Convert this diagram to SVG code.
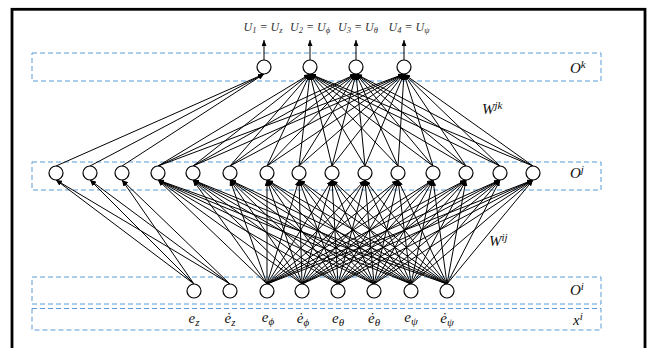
<svg xmlns="http://www.w3.org/2000/svg" width="653" height="348" viewBox="0 0 653 348">
<defs>
<marker id="ah" markerWidth="6" markerHeight="5" refX="6" refY="2.5" orient="auto" markerUnits="userSpaceOnUse">
<path d="M0,0 L6,2.5 L0,5 z" fill="#000"/>
</marker>
<style>
.frame{fill:none;stroke:#000;stroke-width:2.8}
.box{fill:none;stroke:#5B9BD5;stroke-width:1;stroke-dasharray:5,3}
.node circle{fill:#fff;stroke:#000;stroke-width:1.2}
.conn line{stroke:#000;stroke-width:1;marker-end:url(#ah)}
.lbl text{font-family:"Liberation Serif",serif;font-style:italic;fill:#111}
.top text{font-size:12px;fill:#333}
.bot text{font-size:15px}
.side text{font-size:15px}
</style>
</defs>
<rect width="653" height="348" fill="#fff"/>
<rect class="frame" x="12" y="9.3" width="633" height="350"/>
<g id="layers">
<rect class="box" x="32" y="53" width="569" height="28"/>
<rect class="box" x="32" y="162" width="569" height="28"/>
<rect class="box" x="32" y="277" width="569" height="27"/>
<rect class="box" x="32" y="308.5" width="569" height="21.5"/>
</g>
<g id="connectors" class="conn">
<line x1="194" y1="284" x2="56" y2="180"/><line x1="194" y1="284" x2="90" y2="180"/><line x1="194" y1="284" x2="122" y2="180"/>
<line x1="230" y1="284" x2="56" y2="180"/><line x1="230" y1="284" x2="90" y2="180"/><line x1="230" y1="284" x2="122" y2="180"/>
<line x1="267" y1="284" x2="158" y2="180"/><line x1="267" y1="284" x2="193" y2="180"/><line x1="267" y1="284" x2="230" y2="180"/><line x1="267" y1="284" x2="267" y2="180"/><line x1="267" y1="284" x2="299" y2="180"/><line x1="267" y1="284" x2="332" y2="180"/><line x1="267" y1="284" x2="365" y2="180"/><line x1="267" y1="284" x2="398" y2="180"/><line x1="267" y1="284" x2="433" y2="180"/><line x1="267" y1="284" x2="466" y2="180"/><line x1="267" y1="284" x2="500" y2="180"/><line x1="267" y1="284" x2="533" y2="180"/>
<line x1="302" y1="284" x2="158" y2="180"/><line x1="302" y1="284" x2="193" y2="180"/><line x1="302" y1="284" x2="230" y2="180"/><line x1="302" y1="284" x2="267" y2="180"/><line x1="302" y1="284" x2="299" y2="180"/><line x1="302" y1="284" x2="332" y2="180"/><line x1="302" y1="284" x2="365" y2="180"/><line x1="302" y1="284" x2="398" y2="180"/><line x1="302" y1="284" x2="433" y2="180"/><line x1="302" y1="284" x2="466" y2="180"/><line x1="302" y1="284" x2="500" y2="180"/><line x1="302" y1="284" x2="533" y2="180"/>
<line x1="338" y1="284" x2="158" y2="180"/><line x1="338" y1="284" x2="193" y2="180"/><line x1="338" y1="284" x2="230" y2="180"/><line x1="338" y1="284" x2="267" y2="180"/><line x1="338" y1="284" x2="299" y2="180"/><line x1="338" y1="284" x2="332" y2="180"/><line x1="338" y1="284" x2="365" y2="180"/><line x1="338" y1="284" x2="398" y2="180"/><line x1="338" y1="284" x2="433" y2="180"/><line x1="338" y1="284" x2="466" y2="180"/><line x1="338" y1="284" x2="500" y2="180"/><line x1="338" y1="284" x2="533" y2="180"/>
<line x1="374" y1="284" x2="158" y2="180"/><line x1="374" y1="284" x2="193" y2="180"/><line x1="374" y1="284" x2="230" y2="180"/><line x1="374" y1="284" x2="267" y2="180"/><line x1="374" y1="284" x2="299" y2="180"/><line x1="374" y1="284" x2="332" y2="180"/><line x1="374" y1="284" x2="365" y2="180"/><line x1="374" y1="284" x2="398" y2="180"/><line x1="374" y1="284" x2="433" y2="180"/><line x1="374" y1="284" x2="466" y2="180"/><line x1="374" y1="284" x2="500" y2="180"/><line x1="374" y1="284" x2="533" y2="180"/>
<line x1="411" y1="284" x2="158" y2="180"/><line x1="411" y1="284" x2="193" y2="180"/><line x1="411" y1="284" x2="230" y2="180"/><line x1="411" y1="284" x2="267" y2="180"/><line x1="411" y1="284" x2="299" y2="180"/><line x1="411" y1="284" x2="332" y2="180"/><line x1="411" y1="284" x2="365" y2="180"/><line x1="411" y1="284" x2="398" y2="180"/><line x1="411" y1="284" x2="433" y2="180"/><line x1="411" y1="284" x2="466" y2="180"/><line x1="411" y1="284" x2="500" y2="180"/><line x1="411" y1="284" x2="533" y2="180"/>
<line x1="447" y1="284" x2="158" y2="180"/><line x1="447" y1="284" x2="193" y2="180"/><line x1="447" y1="284" x2="230" y2="180"/><line x1="447" y1="284" x2="267" y2="180"/><line x1="447" y1="284" x2="299" y2="180"/><line x1="447" y1="284" x2="332" y2="180"/><line x1="447" y1="284" x2="365" y2="180"/><line x1="447" y1="284" x2="398" y2="180"/><line x1="447" y1="284" x2="433" y2="180"/><line x1="447" y1="284" x2="466" y2="180"/><line x1="447" y1="284" x2="500" y2="180"/><line x1="447" y1="284" x2="533" y2="180"/>
<line x1="56" y1="166" x2="264" y2="74"/><line x1="90" y1="166" x2="264" y2="74"/><line x1="122" y1="166" x2="264" y2="74"/>
<line x1="158" y1="166" x2="310" y2="74"/><line x1="158" y1="166" x2="356" y2="74"/><line x1="158" y1="166" x2="404" y2="74"/>
<line x1="193" y1="166" x2="310" y2="74"/><line x1="193" y1="166" x2="356" y2="74"/><line x1="193" y1="166" x2="404" y2="74"/>
<line x1="230" y1="166" x2="310" y2="74"/><line x1="230" y1="166" x2="356" y2="74"/><line x1="230" y1="166" x2="404" y2="74"/>
<line x1="267" y1="166" x2="310" y2="74"/><line x1="267" y1="166" x2="356" y2="74"/><line x1="267" y1="166" x2="404" y2="74"/>
<line x1="299" y1="166" x2="310" y2="74"/><line x1="299" y1="166" x2="356" y2="74"/><line x1="299" y1="166" x2="404" y2="74"/>
<line x1="332" y1="166" x2="310" y2="74"/><line x1="332" y1="166" x2="356" y2="74"/><line x1="332" y1="166" x2="404" y2="74"/>
<line x1="365" y1="166" x2="310" y2="74"/><line x1="365" y1="166" x2="356" y2="74"/><line x1="365" y1="166" x2="404" y2="74"/>
<line x1="398" y1="166" x2="310" y2="74"/><line x1="398" y1="166" x2="356" y2="74"/><line x1="398" y1="166" x2="404" y2="74"/>
<line x1="433" y1="166" x2="310" y2="74"/><line x1="433" y1="166" x2="356" y2="74"/><line x1="433" y1="166" x2="404" y2="74"/>
<line x1="466" y1="166" x2="310" y2="74"/><line x1="466" y1="166" x2="356" y2="74"/><line x1="466" y1="166" x2="404" y2="74"/>
<line x1="500" y1="166" x2="310" y2="74"/><line x1="500" y1="166" x2="356" y2="74"/><line x1="500" y1="166" x2="404" y2="74"/>
<line x1="533" y1="166" x2="310" y2="74"/><line x1="533" y1="166" x2="356" y2="74"/><line x1="533" y1="166" x2="404" y2="74"/>
<line x1="264" y1="60" x2="264" y2="40"/><line x1="310" y1="60" x2="310" y2="40"/><line x1="356" y1="60" x2="356" y2="40"/><line x1="404" y1="60" x2="404" y2="40"/>
</g>
<g id="output-nodes" class="node">
<g id="U1"><circle cx="264" cy="67" r="7"/></g>
<g id="U2"><circle cx="310" cy="67" r="7"/></g>
<g id="U3"><circle cx="356" cy="67" r="7"/></g>
<g id="U4"><circle cx="404" cy="67" r="7"/></g>
</g>
<g id="hidden-nodes" class="node">
<g id="h1"><circle cx="56" cy="173" r="7"/></g>
<g id="h2"><circle cx="90" cy="173" r="7"/></g>
<g id="h3"><circle cx="122" cy="173" r="7"/></g>
<g id="h4"><circle cx="158" cy="173" r="7"/></g>
<g id="h5"><circle cx="193" cy="173" r="7"/></g>
<g id="h6"><circle cx="230" cy="173" r="7"/></g>
<g id="h7"><circle cx="267" cy="173" r="7"/></g>
<g id="h8"><circle cx="299" cy="173" r="7"/></g>
<g id="h9"><circle cx="332" cy="173" r="7"/></g>
<g id="h10"><circle cx="365" cy="173" r="7"/></g>
<g id="h11"><circle cx="398" cy="173" r="7"/></g>
<g id="h12"><circle cx="433" cy="173" r="7"/></g>
<g id="h13"><circle cx="466" cy="173" r="7"/></g>
<g id="h14"><circle cx="500" cy="173" r="7"/></g>
<g id="h15"><circle cx="533" cy="173" r="7"/></g>
</g>
<g id="input-nodes" class="node">
<g id="i1"><circle cx="194" cy="291" r="7"/></g>
<g id="i2"><circle cx="230" cy="291" r="7"/></g>
<g id="i3"><circle cx="267" cy="291" r="7"/></g>
<g id="i4"><circle cx="302" cy="291" r="7"/></g>
<g id="i5"><circle cx="338" cy="291" r="7"/></g>
<g id="i6"><circle cx="374" cy="291" r="7"/></g>
<g id="i7"><circle cx="411" cy="291" r="7"/></g>
<g id="i8"><circle cx="447" cy="291" r="7"/></g>
</g>
<g id="output-labels" class="lbl top" text-anchor="middle">
<text x="263" y="31">U<tspan font-size="8.5" dy="2">1</tspan><tspan dy="-2"> = U</tspan><tspan font-size="8.5" dy="2">z</tspan></text>
<text x="310" y="31">U<tspan font-size="8.5" dy="2">2</tspan><tspan dy="-2"> = U</tspan><tspan font-size="8.5" dy="2">ϕ</tspan></text>
<text x="358" y="31">U<tspan font-size="8.5" dy="2">3</tspan><tspan dy="-2"> = U</tspan><tspan font-size="8.5" dy="2">θ</tspan></text>
<text x="409" y="31">U<tspan font-size="8.5" dy="2">4</tspan><tspan dy="-2"> = U</tspan><tspan font-size="8.5" dy="2">ψ</tspan></text>
</g>
<g id="input-labels" class="lbl bot" text-anchor="middle">
<text x="194" y="323">e<tspan font-size="11" dy="3">z</tspan></text>
<text x="230" y="323">ė<tspan font-size="11" dy="3">z</tspan></text>
<text x="268" y="322">e<tspan font-size="11" dy="3">ϕ</tspan></text>
<text x="303" y="323">ė<tspan font-size="11" dy="3">ϕ</tspan></text>
<text x="338" y="323">e<tspan font-size="11" dy="3">θ</tspan></text>
<text x="374" y="323">ė<tspan font-size="11" dy="3">θ</tspan></text>
<text x="411" y="322">e<tspan font-size="11" dy="3">ψ</tspan></text>
<text x="447" y="323">ė<tspan font-size="11" dy="3">ψ</tspan></text>
</g>
<g id="side-labels" class="lbl side">
<text x="570" y="73">O<tspan font-size="11" dy="-5">k</tspan></text>
<text x="570" y="178">O<tspan font-size="11" dy="-5">j</tspan></text>
<text x="570" y="295">O<tspan font-size="11" dy="-5">i</tspan></text>
<text x="573" y="325">x<tspan font-size="11" dy="-5">i</tspan></text>
<text x="482" y="114">W<tspan font-size="11" dy="-5">jk</tspan></text>
<text x="489" y="246">W<tspan font-size="11" dy="-5">ij</tspan></text>
</g>
</svg>
